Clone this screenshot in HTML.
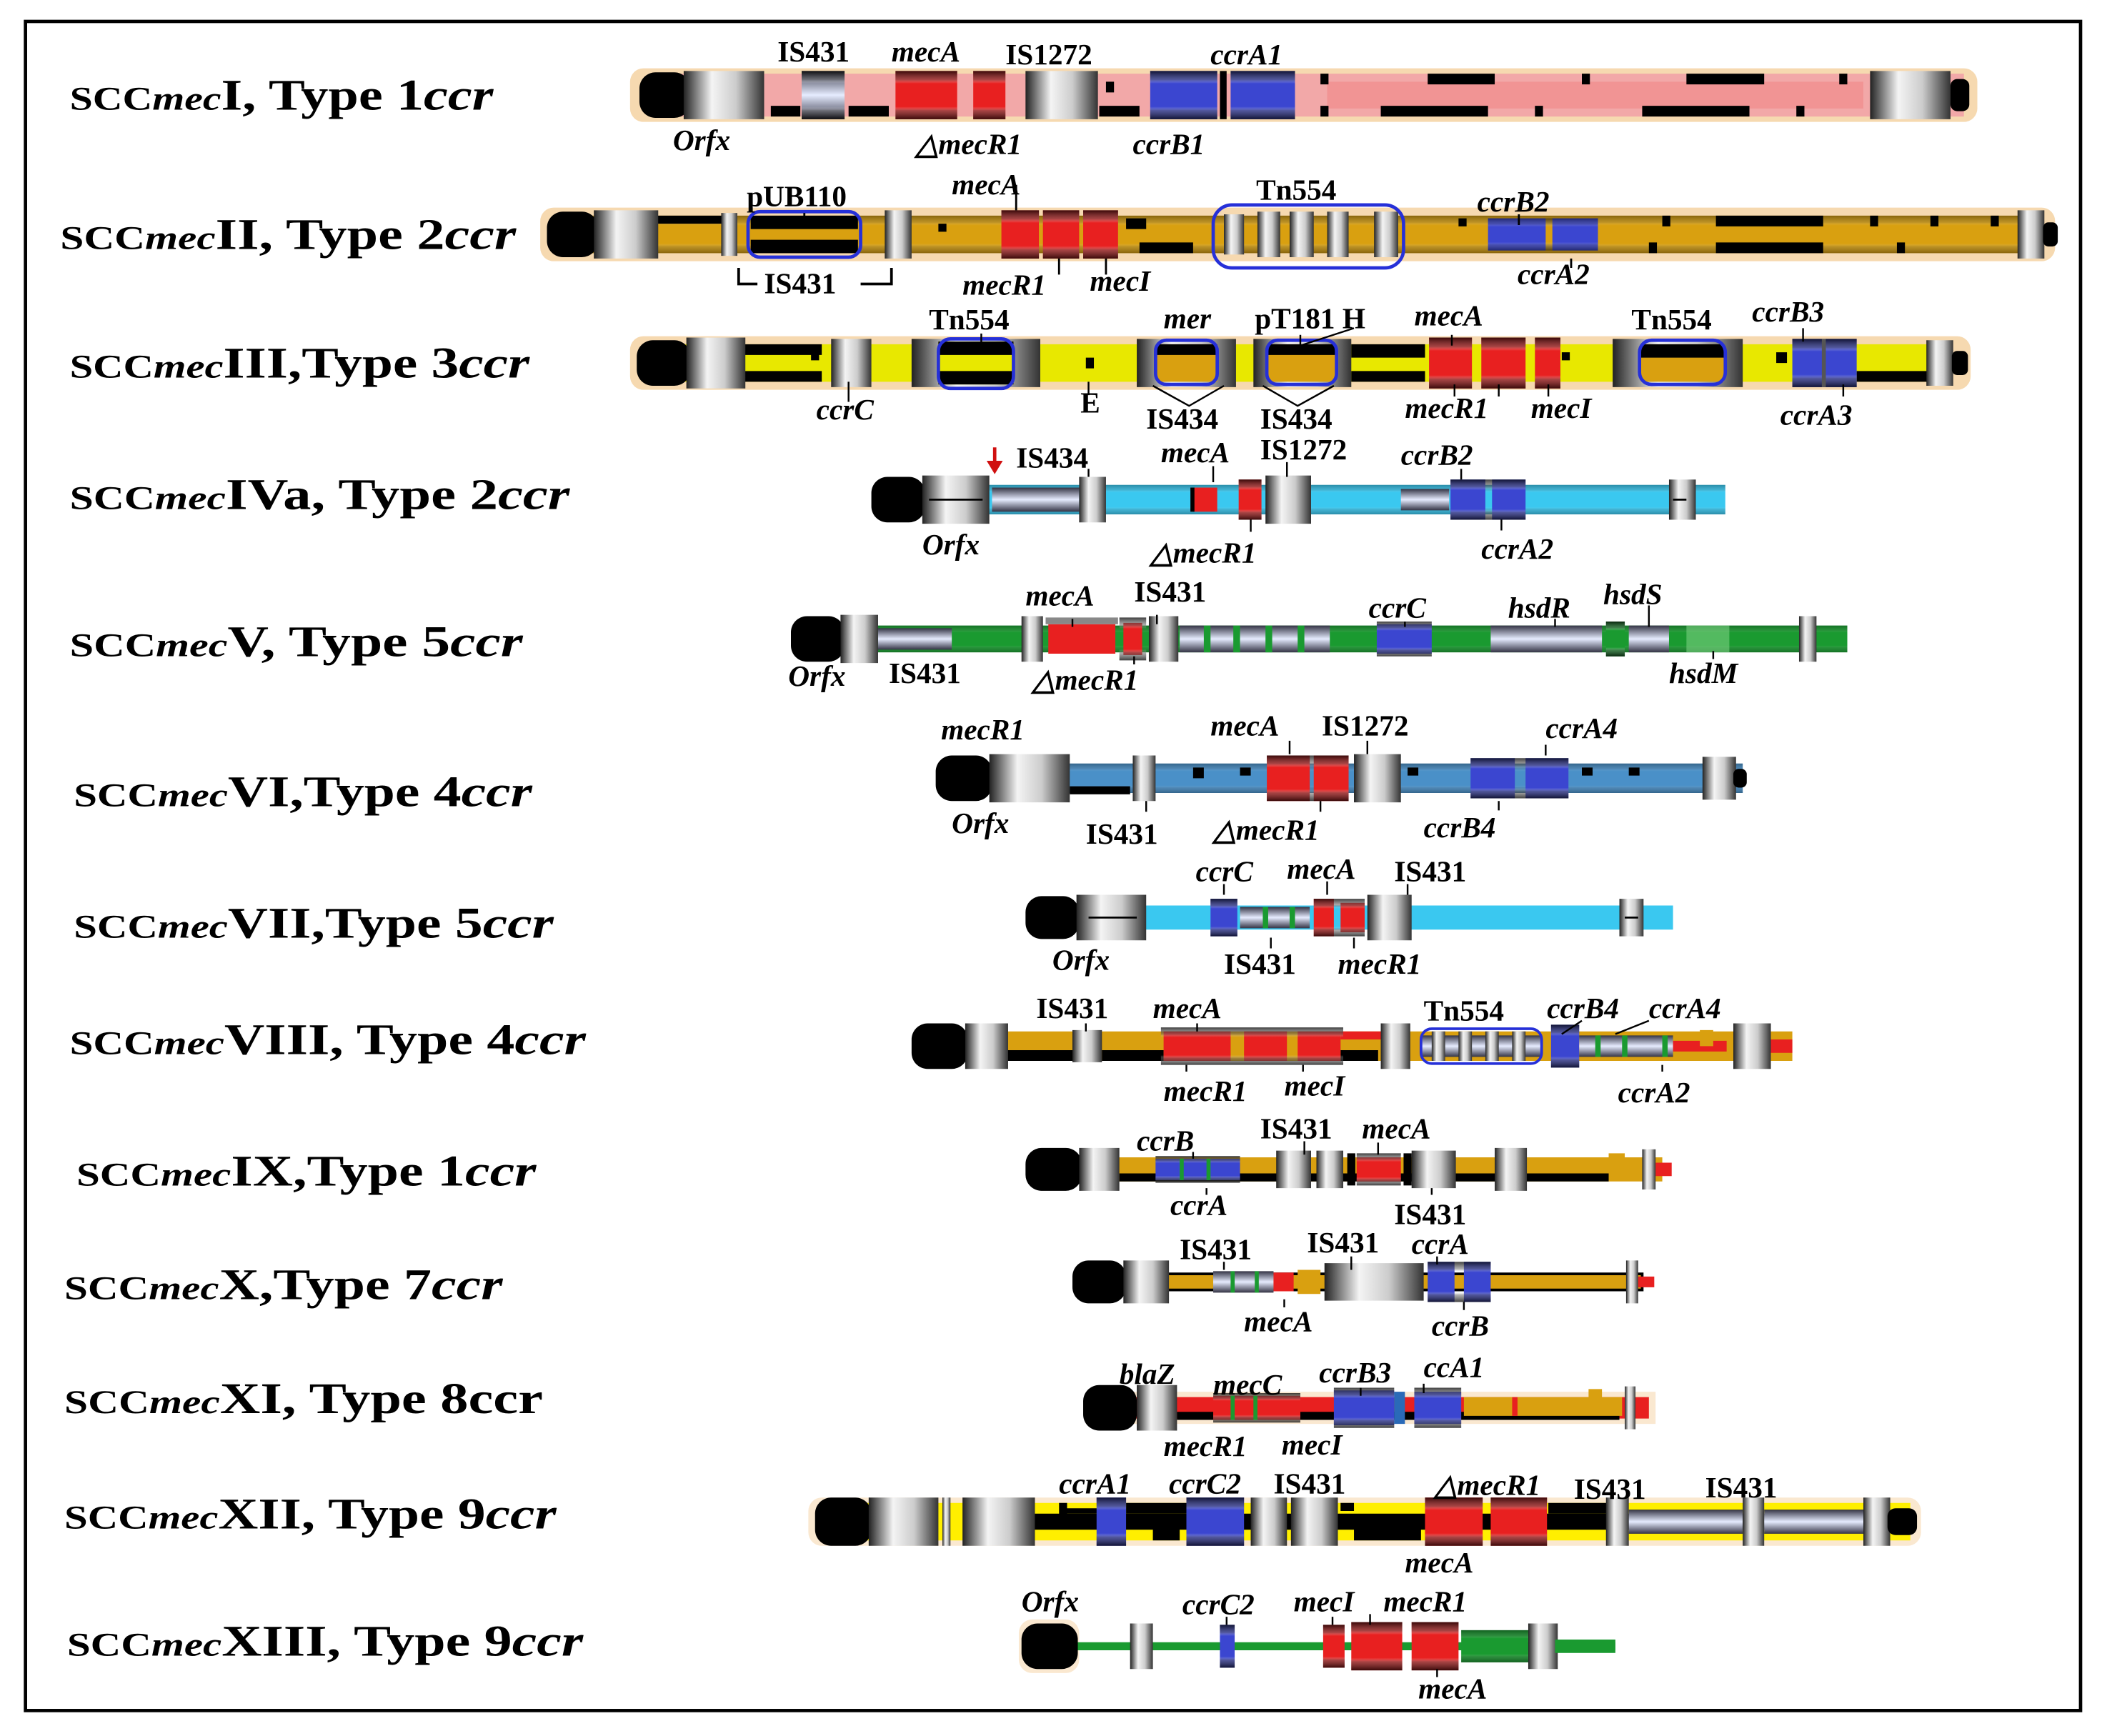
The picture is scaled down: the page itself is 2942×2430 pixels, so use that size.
<!DOCTYPE html>
<html><head><meta charset="utf-8"><style>
html,body{margin:0;padding:0;background:#fff}
svg{display:block}
.r{font-family:"Liberation Serif",serif;font-weight:bold;font-size:33px}
.g{font-family:"Liberation Serif",serif;font-weight:bold;font-style:italic;font-size:22px}
.n{font-family:"Liberation Serif",serif;font-weight:bold;font-size:22px}
.gy{fill:url(#gh)}
.ov{fill:url(#vs)}
.bl{fill:#000}
</style></head><body>
<svg width="2942" height="2430" viewBox="0 0 1568 1296" preserveAspectRatio="none" xmlns="http://www.w3.org/2000/svg">
<defs>
<linearGradient id="gh" x1="0" x2="1" y1="0" y2="0"><stop offset="0" stop-color="#222"/><stop offset=".35" stop-color="#f4f4f4"/><stop offset=".65" stop-color="#ccc"/><stop offset="1" stop-color="#333"/></linearGradient>
<linearGradient id="vs" x1="0" x2="0" y1="0" y2="1"><stop offset="0" stop-color="#000" stop-opacity=".75"/><stop offset=".18" stop-color="#666" stop-opacity=".5"/><stop offset=".26" stop-color="#fff" stop-opacity="0"/><stop offset=".74" stop-color="#fff" stop-opacity="0"/><stop offset=".82" stop-color="#666" stop-opacity=".5"/><stop offset="1" stop-color="#000" stop-opacity=".75"/></linearGradient>
<linearGradient id="lb" x1="0" x2="0" y1="0" y2="1"><stop offset="0" stop-color="#334"/><stop offset=".5" stop-color="#e6ecff"/><stop offset="1" stop-color="#334"/></linearGradient>
</defs>
<rect x="19" y="16" width="1533" height="1261" fill="none" stroke="#000" stroke-width="2.5"/>

<!-- Row labels -->
<g class="r">
<text x="52" y="82" textLength="316" lengthAdjust="spacingAndGlyphs"><tspan font-size="25">SCC</tspan><tspan font-style="italic" font-size="25">mec</tspan>I, Type 1<tspan font-style="italic">ccr</tspan></text>
<text x="45" y="186" textLength="340" lengthAdjust="spacingAndGlyphs"><tspan font-size="25">SCC</tspan><tspan font-style="italic" font-size="25">mec</tspan>II, Type  2<tspan font-style="italic">ccr</tspan></text>
<text x="52" y="282" textLength="343" lengthAdjust="spacingAndGlyphs"><tspan font-size="25">SCC</tspan><tspan font-style="italic" font-size="25">mec</tspan>III,Type 3<tspan font-style="italic">ccr</tspan></text>
<text x="52" y="380" textLength="373" lengthAdjust="spacingAndGlyphs"><tspan font-size="25">SCC</tspan><tspan font-style="italic" font-size="25">mec</tspan>IVa, Type 2<tspan font-style="italic">ccr</tspan></text>
<text x="52" y="490" textLength="338" lengthAdjust="spacingAndGlyphs"><tspan font-size="25">SCC</tspan><tspan font-style="italic" font-size="25">mec</tspan>V, Type 5<tspan font-style="italic">ccr</tspan></text>
<text x="55" y="602" textLength="342" lengthAdjust="spacingAndGlyphs"><tspan font-size="25">SCC</tspan><tspan font-style="italic" font-size="25">mec</tspan>VI,Type 4<tspan font-style="italic">ccr</tspan></text>
<text x="55" y="700" textLength="358" lengthAdjust="spacingAndGlyphs"><tspan font-size="25">SCC</tspan><tspan font-style="italic" font-size="25">mec</tspan>VII,Type 5<tspan font-style="italic">ccr</tspan></text>
<text x="52" y="787" textLength="385" lengthAdjust="spacingAndGlyphs"><tspan font-size="25">SCC</tspan><tspan font-style="italic" font-size="25">mec</tspan>VIII, Type 4<tspan font-style="italic">ccr</tspan></text>
<text x="57" y="885" textLength="343" lengthAdjust="spacingAndGlyphs"><tspan font-size="25">SCC</tspan><tspan font-style="italic" font-size="25">mec</tspan>IX,Type 1<tspan font-style="italic">ccr</tspan></text>
<text x="48" y="970" textLength="327" lengthAdjust="spacingAndGlyphs"><tspan font-size="25">SCC</tspan><tspan font-style="italic" font-size="25">mec</tspan>X,Type 7<tspan font-style="italic">ccr</tspan></text>
<text x="48" y="1055" textLength="357" lengthAdjust="spacingAndGlyphs"><tspan font-size="25">SCC</tspan><tspan font-style="italic" font-size="25">mec</tspan>XI, Type 8ccr</text>
<text x="48" y="1141" textLength="367" lengthAdjust="spacingAndGlyphs"><tspan font-size="25">SCC</tspan><tspan font-style="italic" font-size="25">mec</tspan>XII, Type 9<tspan font-style="italic">ccr</tspan></text>
<text x="50" y="1236" textLength="385" lengthAdjust="spacingAndGlyphs"><tspan font-size="25">SCC</tspan><tspan font-style="italic" font-size="25">mec</tspan>XIII, Type 9<tspan font-style="italic">ccr</tspan></text>
</g>

<!-- Row 1 -->
<g transform="translate(0,71)">
<rect x="470" y="-20" width="1005" height="40" rx="10" fill="#f6d9b0"/>
<rect x="490" y="-16" width="975" height="32" fill="#f2a8a8"/>
<rect x="990" y="-10" width="400" height="20" fill="#f08080" opacity=".5"/>
<g class="bl"><rect x="985" y="-16" width="6" height="8"/><rect x="1065" y="-16" width="50" height="8"/><rect x="1180" y="-16" width="6" height="8"/><rect x="1258" y="-16" width="58" height="8"/><rect x="1372" y="-16" width="6" height="8"/><rect x="985" y="8" width="6" height="8"/><rect x="1030" y="8" width="80" height="8"/><rect x="1145" y="8" width="6" height="8"/><rect x="1225" y="8" width="80" height="8"/><rect x="1340" y="8" width="6" height="8"/><rect x="825" y="-10" width="6" height="8"/><rect x="820" y="8" width="30" height="8"/><rect x="575" y="8" width="22" height="8"/><rect x="633" y="8" width="30" height="8"/></g>
<rect x="477" y="-17" width="38" height="34" rx="12" class="bl"/>
<rect x="510" y="-18" width="60" height="36" class="gy"/>
<rect x="598" y="-18" width="32" height="36" fill="url(#lb)"/><rect x="598" y="-18" width="32" height="36" class="ov"/>
<rect x="668" y="-18" width="46" height="36" fill="#e82020"/><rect x="668" y="-18" width="46" height="36" class="ov"/>
<rect x="726" y="-18" width="24" height="36" fill="#e82020"/><rect x="726" y="-18" width="24" height="36" class="ov"/>
<rect x="765" y="-18" width="54" height="36" class="gy"/>
<rect x="858" y="-18" width="50" height="36" fill="#3b46d0"/><rect x="858" y="-18" width="50" height="36" class="ov"/>
<rect x="918" y="-18" width="48" height="36" fill="#3b46d0"/><rect x="918" y="-18" width="48" height="36" class="ov"/>
<rect x="910" y="-18" width="5" height="36" class="bl"/>
<rect x="1395" y="-18" width="60" height="36" class="gy"/>
<rect x="1455" y="-12" width="14" height="24" rx="5" class="bl"/>
</g>

<!-- Row 2 -->
<g transform="translate(0,175)">
<rect x="403" y="-20" width="1130" height="40" rx="10" fill="#f6d9b0"/>
<rect x="440" y="-14" width="1070" height="28" fill="#d9a010"/>
<rect x="440" y="-14" width="1070" height="28" class="ov" opacity=".5"/>
<g class="bl"><rect x="490" y="-14" width="50" height="6"/><rect x="560" y="-14" width="80" height="10"/><rect x="560" y="4" width="80" height="10"/><rect x="700" y="-8" width="6" height="6"/><rect x="840" y="-12" width="15" height="8"/><rect x="850" y="6" width="40" height="8"/><rect x="1088" y="-12" width="6" height="6"/><rect x="1240" y="-14" width="6" height="8"/><rect x="1280" y="-14" width="80" height="8"/><rect x="1280" y="6" width="80" height="8"/><rect x="1395" y="-14" width="6" height="8"/><rect x="1440" y="-14" width="6" height="8"/><rect x="1230" y="6" width="6" height="8"/><rect x="1415" y="6" width="6" height="8"/><rect x="1485" y="-14" width="6" height="8"/></g>
<rect x="408" y="-17" width="38" height="34" rx="12" class="bl"/>
<rect x="443" y="-18" width="48" height="36" class="gy"/>
<rect x="538" y="-16" width="12" height="32" class="gy"/>
<rect x="558" y="-17" width="84" height="34" rx="9" fill="none" stroke="#2630d8" stroke-width="2.5"/>
<rect x="660" y="-18" width="20" height="36" class="gy"/>
<rect x="747" y="-18" width="28" height="36" fill="#e82020"/><rect x="747" y="-18" width="28" height="36" class="ov"/>
<rect x="778" y="-18" width="27" height="36" fill="#e82020"/><rect x="778" y="-18" width="27" height="36" class="ov"/>
<rect x="808" y="-18" width="26" height="36" fill="#e82020"/><rect x="808" y="-18" width="26" height="36" class="ov"/>
<rect x="913" y="-15" width="15" height="30" class="gy"/><rect x="938" y="-17" width="17" height="34" class="gy"/><rect x="962" y="-17" width="18" height="34" class="gy"/><rect x="990" y="-17" width="16" height="34" class="gy"/><rect x="1025" y="-17" width="18" height="34" class="gy"/>
<rect x="905" y="-22" width="142" height="47" rx="14" fill="none" stroke="#2630d8" stroke-width="2.5"/>
<rect x="1110" y="-12" width="43" height="24" fill="#3b46d0"/><rect x="1158" y="-12" width="34" height="24" fill="#3b46d0"/><rect x="1110" y="-12" width="82" height="24" class="ov" opacity=".6"/>
<rect x="1505" y="-18" width="20" height="36" class="gy"/>
<rect x="1524" y="-9" width="11" height="18" rx="4" class="bl"/>
</g>
<path d="M551 200V212H565M642 212H665V200" fill="none" stroke="#000" stroke-width="2"/>
<path d="M758 138V157M790 193V205M825 193V205M1133 160V168M1172 193V200M600 159V168" stroke="#000" stroke-width="1.5"/>

<!-- Row 3 -->
<g transform="translate(0,271)">
<rect x="470" y="-20" width="1000" height="40" rx="10" fill="#f6d9b0"/>
<rect x="510" y="-14" width="945" height="28" fill="#e8e800"/>
<g class="bl"><rect x="555" y="-14" width="58" height="8"/><rect x="555" y="6" width="58" height="8"/><rect x="605" y="-8" width="6" height="6"/><rect x="810" y="-4" width="6" height="8"/><rect x="1008" y="-14" width="55" height="10"/><rect x="1008" y="6" width="55" height="8"/><rect x="1165" y="-8" width="6" height="6"/><rect x="1325" y="-8" width="8" height="8"/><rect x="1385" y="6" width="55" height="8"/></g>
<rect x="475" y="-17" width="40" height="34" rx="12" class="bl"/>
<rect x="512" y="-19" width="44" height="38" class="gy"/>
<rect x="620" y="-18" width="30" height="36" class="gy"/>
<rect x="680" y="-18" width="96" height="36" class="gy"/><rect x="700" y="-16" width="56" height="32" fill="#e8e800"/><rect x="700" y="-16" width="56" height="10" class="bl"/><rect x="700" y="6" width="56" height="10" class="bl"/>
<rect x="700" y="-18" width="56" height="37" rx="9" fill="none" stroke="#2630d8" stroke-width="2.5"/>
<rect x="848" y="-18" width="74" height="36" class="gy"/><rect x="863" y="-14" width="45" height="28" fill="#d9a010"/><rect x="863" y="-14" width="45" height="8" class="bl"/>
<rect x="862" y="-17" width="46" height="33" rx="8" fill="none" stroke="#2630d8" stroke-width="2.5"/>
<rect x="935" y="-18" width="73" height="36" class="gy"/><rect x="946" y="-14" width="50" height="28" fill="#d9a010"/><rect x="946" y="-14" width="50" height="8" class="bl"/>
<rect x="945" y="-17" width="52" height="33" rx="8" fill="none" stroke="#2630d8" stroke-width="2.5"/>
<rect x="1066" y="-19" width="32" height="38" fill="#e82020"/><rect x="1066" y="-19" width="32" height="38" class="ov"/>
<rect x="1105" y="-19" width="33" height="38" fill="#e82020"/><rect x="1105" y="-19" width="33" height="38" class="ov"/>
<rect x="1145" y="-19" width="19" height="38" fill="#e82020"/><rect x="1145" y="-19" width="19" height="38" class="ov"/>
<rect x="1203" y="-18" width="97" height="36" class="gy"/><rect x="1224" y="-14" width="62" height="28" fill="#d9a010"/><rect x="1224" y="-14" width="62" height="10" class="bl"/>
<rect x="1223" y="-17" width="64" height="33" rx="9" fill="none" stroke="#2630d8" stroke-width="2.5"/>
<rect x="1337" y="-18" width="48" height="36" fill="#3b46d0"/><rect x="1337" y="-18" width="48" height="36" class="ov"/><rect x="1359" y="-18" width="3" height="36" fill="#555"/>
<rect x="1437" y="-17" width="20" height="34" class="gy"/>
<rect x="1456" y="-9" width="12" height="18" rx="4" class="bl"/>
</g>
<path d="M633 285V300M812 285V295M860 288L887 303L913 288M942 288L968 303L995 288M1085 287V296M1118 287V296M1155 287V296M1375 287V296M1345 245V255M970 250V258L1010 245M732 249V258M1083 250V258" fill="none" stroke="#000" stroke-width="1.3"/>

<!-- Row 4 -->
<g transform="translate(0,373)">
<rect x="685" y="-11" width="602" height="22" fill="#3ac8f0"/>
<rect x="685" y="-11" width="602" height="22" class="ov" opacity=".4"/>
<rect x="650" y="-17" width="40" height="34" rx="12" class="bl"/>
<rect x="688" y="-18" width="50" height="36" class="gy"/><path d="M693 0H733" stroke="#000" stroke-width="1.5"/>
<rect x="740" y="-9" width="65" height="18" fill="url(#lb)"/>
<rect x="805" y="-17" width="20" height="34" class="gy"/>
<rect x="890" y="-9" width="18" height="18" fill="#e82020"/><rect x="888" y="-9" width="3" height="18" class="bl"/>
<rect x="924" y="-15" width="17" height="30" fill="#e82020"/><rect x="924" y="-15" width="17" height="30" class="ov"/>
<rect x="944" y="-18" width="34" height="36" class="gy"/>
<rect x="1045" y="-8" width="36" height="16" fill="url(#lb)"/>
<rect x="1082" y="-15" width="26" height="30" fill="#3b46d0"/><rect x="1113" y="-15" width="25" height="30" fill="#3b46d0"/><rect x="1082" y="-15" width="56" height="30" class="ov"/>
<rect x="1245" y="-15" width="20" height="30" class="gy"/><path d="M1248 0H1258" stroke="#000" stroke-width="1.5"/>
</g>
<path d="M742 334V346" stroke="#d01010" stroke-width="2.5"/><path d="M736 344L742 354L748 344Z" fill="#d01010"/>
<path d="M905 348V360M960 345V356M1090 350V358M933 388V397M1120 388V396M812 350V356" stroke="#000" stroke-width="1.3"/>

<!-- Row 5 -->
<g transform="translate(0,477)">
<rect x="625" y="-10" width="753" height="20" fill="#1a9a30"/>
<rect x="625" y="-10" width="753" height="20" class="ov" opacity=".35"/>
<rect x="590" y="-17" width="40" height="34" rx="12" class="bl"/>
<rect x="627" y="-18" width="28" height="36" class="gy"/>
<rect x="655" y="-8" width="55" height="16" fill="url(#lb)"/>
<rect x="762" y="-17" width="16" height="34" class="gy"/>
<rect x="782" y="-11" width="50" height="22" fill="#e82020"/><rect x="780" y="-16" width="54" height="5" fill="#888"/>
<rect x="838" y="-12" width="14" height="24" fill="#e82020"/><rect x="835" y="-16" width="20" height="32" class="ov"/>
<rect x="857" y="-17" width="22" height="34" class="gy"/>
<rect x="880" y="-10" width="112" height="20" fill="url(#lb)"/>
<g fill="#1a9a30"><rect x="898" y="-10" width="5" height="20"/><rect x="920" y="-10" width="5" height="20"/><rect x="944" y="-10" width="5" height="20"/><rect x="968" y="-10" width="5" height="20"/></g>
<rect x="1027" y="-11" width="41" height="22" fill="#3b46d0"/><rect x="1027" y="-13" width="41" height="26" class="ov"/>
<rect x="1112" y="-10" width="83" height="20" fill="url(#lb)"/>
<rect x="1198" y="-13" width="14" height="26" fill="#1a9a30"/><rect x="1198" y="-13" width="14" height="26" class="ov"/>
<rect x="1215" y="-10" width="30" height="20" fill="url(#lb)"/>
<rect x="1258" y="-10" width="32" height="20" fill="#7ad080" opacity=".6"/>
<rect x="1342" y="-17" width="13" height="34" class="gy"/>
</g>
<path d="M800 462V468M863 459V466M1048 464V468M1160 462V468M1230 452V468M1278 486V492M846 490V496" stroke="#000" stroke-width="1.3"/>

<!-- Row 6 -->
<g transform="translate(0,581)">
<rect x="735" y="-11" width="565" height="22" fill="#4a90c8"/>
<rect x="735" y="-11" width="565" height="22" class="ov" opacity=".4"/>
<g class="bl"><rect x="798" y="6" width="45" height="6"/><rect x="890" y="-8" width="8" height="8"/><rect x="925" y="-8" width="8" height="6"/><rect x="1050" y="-8" width="8" height="6"/><rect x="1180" y="-8" width="8" height="6"/><rect x="1215" y="-8" width="8" height="6"/></g>
<rect x="698" y="-17" width="42" height="34" rx="12" class="bl"/>
<rect x="738" y="-18" width="60" height="36" class="gy"/>
<rect x="845" y="-17" width="17" height="34" class="gy"/>
<rect x="945" y="-17" width="32" height="34" fill="#e82020"/><rect x="980" y="-17" width="26" height="34" fill="#e82020"/><rect x="945" y="-17" width="61" height="34" class="ov"/>
<rect x="1010" y="-18" width="35" height="36" class="gy"/>
<rect x="1097" y="-15" width="33" height="30" fill="#3b46d0"/><rect x="1138" y="-15" width="32" height="30" fill="#3b46d0"/><rect x="1097" y="-15" width="73" height="30" class="ov"/>
<rect x="1270" y="-16" width="25" height="32" class="gy"/>
<rect x="1293" y="-7" width="10" height="14" rx="4" class="bl"/>
</g>
<path d="M962 553V563M1020 553V563M1153 556V564M855 598V606M985 598V606M1118 598V605" stroke="#000" stroke-width="1.3"/>

<!-- Row 7 -->
<g transform="translate(0,685)">
<rect x="800" y="-9" width="448" height="18" fill="#3ac8f0"/>
<rect x="765" y="-16" width="40" height="32" rx="12" class="bl"/>
<rect x="803" y="-17" width="52" height="34" class="gy"/><path d="M812 0H848" stroke="#000" stroke-width="1.5"/>
<rect x="903" y="-14" width="20" height="28" fill="#3b46d0"/><rect x="903" y="-14" width="20" height="28" class="ov"/>
<rect x="925" y="-8" width="52" height="16" fill="url(#lb)"/>
<g fill="#1a9a30"><rect x="942" y="-8" width="4" height="16"/><rect x="962" y="-8" width="4" height="16"/></g>
<rect x="980" y="-14" width="15" height="28" fill="#e82020"/><rect x="1000" y="-11" width="18" height="22" fill="#e82020"/><rect x="980" y="-14" width="38" height="28" class="ov"/>
<rect x="1020" y="-17" width="33" height="34" class="gy"/>
<rect x="1208" y="-14" width="18" height="28" class="gy"/><path d="M1212 0H1222" stroke="#000" stroke-width="1.5"/>
</g>
<path d="M913 660V668M990 658V668M1050 660V668M948 700V708M1010 700V708" stroke="#000" stroke-width="1.3"/>

<!-- Row 8 -->
<g transform="translate(0,781)">
<rect x="718" y="-11" width="619" height="22" fill="#d9a010"/>
<g class="bl"><rect x="750" y="3" width="50" height="8"/><rect x="822" y="3" width="46" height="8"/><rect x="1000" y="3" width="28" height="8"/></g>
<rect x="1000" y="-11" width="30" height="6" fill="#e82020"/><rect x="1178" y="-4" width="110" height="8" fill="#e82020"/><rect x="1320" y="-5" width="17" height="10" fill="#e82020"/>
<rect x="680" y="-17" width="42" height="34" rx="12" class="bl"/>
<rect x="720" y="-17" width="32" height="34" class="gy"/>
<rect x="800" y="-12" width="22" height="24" class="gy"/>
<rect x="868" y="-11" width="50" height="22" fill="#e82020"/><rect x="928" y="-11" width="32" height="22" fill="#e82020"/><rect x="968" y="-11" width="32" height="22" fill="#e82020"/><rect x="866" y="-14" width="136" height="28" class="ov"/>
<rect x="1030" y="-17" width="22" height="34" class="gy"/>
<rect x="1060" y="-8" width="90" height="16" fill="url(#lb)"/>
<g class="gy"><rect x="1068" y="-11" width="10" height="22"/><rect x="1088" y="-11" width="10" height="22"/><rect x="1108" y="-11" width="10" height="22"/><rect x="1128" y="-11" width="10" height="22"/></g>
<rect x="1060" y="-13" width="90" height="26" rx="8" fill="none" stroke="#2630d8" stroke-width="2"/>
<rect x="1157" y="-16" width="21" height="32" fill="#3b46d0"/><rect x="1157" y="-16" width="21" height="32" class="ov"/>
<rect x="1178" y="-8" width="70" height="16" fill="url(#lb)"/>
<g fill="#1a9a30"><rect x="1190" y="-8" width="4" height="16"/><rect x="1210" y="-8" width="4" height="16"/><rect x="1240" y="-8" width="4" height="16"/></g>
<rect x="1268" y="-12" width="10" height="12" fill="#d9a010"/>
<rect x="1293" y="-17" width="28" height="34" class="gy"/>
</g>
<path d="M810 764V770M893 764V770M885 795V800M972 795V800M1180 762L1165 772M1230 762L1205 772M1240 795V800" stroke="#000" stroke-width="1.3"/>

<!-- Row 9 -->
<g transform="translate(0,873)">
<rect x="800" y="-9" width="440" height="18" fill="#d9a010"/>
<rect x="835" y="3" width="365" height="6" class="bl"/>
<rect x="1235" y="-5" width="12" height="10" fill="#e82020"/>
<rect x="765" y="-16" width="42" height="32" rx="12" class="bl"/>
<rect x="805" y="-16" width="30" height="32" class="gy"/>
<rect x="862" y="-8" width="63" height="16" fill="#3b46d0"/><rect x="862" y="-10" width="63" height="20" class="ov"/>
<g fill="#1a9a30"><rect x="880" y="-8" width="3" height="16"/><rect x="900" y="-8" width="3" height="16"/></g>
<rect x="952" y="-14" width="26" height="28" class="gy"/><rect x="982" y="-14" width="20" height="28" class="gy"/>
<rect x="1005" y="-12" width="6" height="24" class="bl"/>
<rect x="1012" y="-9" width="33" height="18" fill="#e82020"/><rect x="1012" y="-12" width="33" height="24" class="ov"/>
<rect x="1047" y="-12" width="6" height="24" class="bl"/>
<rect x="1053" y="-14" width="33" height="28" class="gy"/>
<rect x="1115" y="-16" width="24" height="32" class="gy"/>
<rect x="1200" y="-12" width="12" height="14" fill="#d9a010"/>
<rect x="1225" y="-15" width="10" height="30" class="gy"/>
</g>
<path d="M890 860V865M973 852V862M1028 853V862M900 887V892M1068 887V892" stroke="#000" stroke-width="1.3"/>

<!-- Row 10 -->
<g transform="translate(0,957)">
<rect x="835" y="-6" width="390" height="12" fill="#d9a010" stroke="#000" stroke-width="2"/>
<rect x="800" y="-16" width="40" height="32" rx="12" class="bl"/>
<rect x="838" y="-16" width="34" height="32" class="gy"/>
<rect x="905" y="-8" width="45" height="16" fill="url(#lb)"/>
<g fill="#1a9a30"><rect x="918" y="-8" width="3" height="16"/><rect x="936" y="-8" width="3" height="16"/></g>
<rect x="950" y="-7" width="15" height="14" fill="#e82020"/>
<rect x="968" y="-9" width="17" height="18" fill="#d9a010"/>
<rect x="988" y="-14" width="74" height="28" class="gy"/>
<rect x="1065" y="-15" width="20" height="30" fill="#3b46d0"/><rect x="1092" y="-15" width="20" height="30" fill="#3b46d0"/><rect x="1065" y="-15" width="47" height="30" class="ov"/>
<rect x="1213" y="-16" width="9" height="32" class="gy"/>
<rect x="1222" y="-4" width="12" height="8" fill="#e82020"/>
</g>
<path d="M913 942V948M1008 938V948M1072 938V944M958 970V976M1092 972V978" stroke="#000" stroke-width="1.3"/>

<!-- Row 11 -->
<g transform="translate(0,1051)">
<rect x="840" y="-12" width="395" height="24" fill="#f6d9b0" opacity=".6"/>
<rect x="845" y="-8" width="385" height="16" fill="#e82020"/>
<rect x="878" y="3" width="330" height="6" class="bl"/>
<rect x="1092" y="-8" width="118" height="14" fill="#d9a010"/><rect x="1128" y="-8" width="4" height="14" fill="#e82020"/>
<rect x="808" y="-17" width="40" height="34" rx="12" class="bl"/>
<rect x="848" y="-17" width="30" height="34" class="gy"/>
<rect x="905" y="-9" width="65" height="18" fill="#e82020"/><rect x="905" y="-11" width="65" height="22" class="ov"/>
<g fill="#1a9a30"><rect x="918" y="-9" width="3" height="18"/><rect x="935" y="-9" width="3" height="18"/></g>
<rect x="995" y="-13" width="45" height="26" fill="#3b46d0"/><rect x="995" y="-15" width="45" height="30" class="ov"/>
<rect x="1040" y="-12" width="8" height="24" fill="#2a6ab8"/>
<rect x="1055" y="-12" width="35" height="24" fill="#3b46d0"/><rect x="1055" y="-15" width="35" height="30" class="ov"/>
<rect x="1185" y="-14" width="10" height="16" fill="#d9a010"/>
<rect x="1212" y="-16" width="8" height="32" class="gy"/>
</g>
<path d="M1015 1036V1042M1062 1033V1040" stroke="#000" stroke-width="1.3"/>

<!-- Row 12 -->
<g transform="translate(0,1136)">
<rect x="603" y="-18" width="830" height="36" rx="10" fill="#f6d9b0" opacity=".6"/>
<rect x="645" y="-14" width="780" height="28" fill="#ffef00"/>
<rect x="770" y="-6" width="650" height="12" class="bl"/>
<g class="bl"><rect x="790" y="-14" width="6" height="10"/><rect x="795" y="-10" width="25" height="4"/><rect x="840" y="-14" width="45" height="8"/><rect x="1000" y="-14" width="10" height="6"/><rect x="1155" y="-14" width="45" height="8"/><rect x="1010" y="4" width="50" height="10"/><rect x="860" y="4" width="20" height="10"/></g>
<rect x="608" y="-18" width="42" height="36" rx="12" class="bl"/>
<rect x="648" y="-18" width="52" height="36" class="gy"/><rect x="703" y="-18" width="6" height="36" class="gy"/>
<rect x="718" y="-18" width="54" height="36" class="gy"/>
<rect x="818" y="-18" width="22" height="36" fill="#3b46d0"/><rect x="818" y="-18" width="22" height="36" class="ov"/>
<rect x="885" y="-18" width="43" height="36" fill="#3b46d0"/><rect x="885" y="-18" width="43" height="36" class="ov"/>
<rect x="933" y="-18" width="27" height="36" class="gy"/>
<rect x="963" y="-18" width="35" height="36" class="gy"/>
<rect x="1063" y="-18" width="43" height="36" fill="#e82020"/><rect x="1063" y="-18" width="43" height="36" class="ov"/>
<rect x="1112" y="-18" width="42" height="36" fill="#e82020"/><rect x="1112" y="-18" width="42" height="36" class="ov"/>
<rect x="1198" y="-18" width="17" height="36" class="gy"/>
<rect x="1215" y="-9" width="85" height="18" fill="url(#lb)"/>
<rect x="1300" y="-18" width="16" height="36" class="gy"/>
<rect x="1316" y="-9" width="76" height="18" fill="url(#lb)"/>
<rect x="1390" y="-18" width="20" height="36" class="gy"/>
<rect x="1408" y="-10" width="22" height="20" rx="6" class="bl"/>
</g>

<!-- Row 13 -->
<g transform="translate(0,1229)">
<rect x="760" y="-20" width="45" height="40" rx="10" fill="#f6d9b0" opacity=".6"/>
<rect x="800" y="-3" width="405" height="6" fill="#1a9a30"/>
<rect x="762" y="-17" width="42" height="34" rx="12" class="bl"/>
<rect x="843" y="-17" width="17" height="34" class="gy"/>
<rect x="910" y="-16" width="11" height="32" fill="#3b46d0"/><rect x="910" y="-16" width="11" height="32" class="ov"/>
<rect x="987" y="-16" width="16" height="32" fill="#e82020"/><rect x="987" y="-16" width="16" height="32" class="ov"/>
<rect x="1008" y="-18" width="38" height="36" fill="#e82020"/><rect x="1008" y="-18" width="38" height="36" class="ov"/>
<rect x="1053" y="-18" width="35" height="36" fill="#e82020"/><rect x="1053" y="-18" width="35" height="36" class="ov"/>
<rect x="1090" y="-12" width="50" height="24" fill="#1a9a30"/><rect x="1090" y="-12" width="50" height="24" class="ov" opacity=".5"/>
<rect x="1140" y="-17" width="22" height="34" class="gy"/>
<rect x="1160" y="-5" width="45" height="10" fill="#1a9a30"/>
</g>
<path d="M915 1207V1213M994 1207V1213M1022 1205V1213M1072 1246V1252" stroke="#000" stroke-width="1.3"/>

<!-- Gene labels -->
<g>
<text class="n" x="580" y="46">IS431</text><text class="g" x="665" y="46">mecA</text><text class="n" x="750" y="48">IS1272</text><text class="g" x="903" y="48">ccrA1</text>
<text class="g" x="502" y="112">Orfx</text><text class="g" x="683" y="115">△mecR1</text><text class="g" x="845" y="115">ccrB1</text>

<text class="n" x="557" y="154">pUB110</text><text class="g" x="710" y="145">mecA</text><text class="n" x="937" y="149">Tn554</text><text class="g" x="1102" y="158">ccrB2</text>
<text class="n" x="570" y="219">IS431</text><text class="g" x="718" y="220">mecR1</text><text class="g" x="813" y="217">mecI</text><text class="g" x="1132" y="212">ccrA2</text>

<text class="n" x="693" y="246">Tn554</text><text class="g" x="868" y="245">mer</text><text class="n" x="936" y="245">pT181 H</text><text class="g" x="1055" y="243">mecA</text><text class="n" x="1217" y="246">Tn554</text><text class="g" x="1307" y="240">ccrB3</text>
<text class="g" x="609" y="313">ccrC</text><text class="n" x="806" y="308">E</text><text class="n" x="855" y="320">IS434</text><text class="n" x="940" y="320">IS434</text><text class="g" x="1048" y="312">mecR1</text><text class="g" x="1142" y="312">mecI</text><text class="g" x="1328" y="317">ccrA3</text>

<text class="n" x="758" y="349">IS434</text><text class="g" x="866" y="345">mecA</text><text class="n" x="940" y="343">IS1272</text><text class="g" x="1045" y="347">ccrB2</text>
<text class="g" x="688" y="414">Orfx</text><text class="g" x="858" y="420">△mecR1</text><text class="g" x="1105" y="417">ccrA2</text>

<text class="g" x="765" y="452">mecA</text><text class="n" x="846" y="449">IS431</text><text class="g" x="1021" y="461">ccrC</text><text class="g" x="1125" y="461">hsdR</text><text class="g" x="1196" y="451">hsdS</text>
<text class="g" x="588" y="512">Orfx</text><text class="n" x="663" y="510">IS431</text><text class="g" x="770" y="515">△mecR1</text><text class="g" x="1245" y="510">hsdM</text>

<text class="g" x="702" y="552">mecR1</text><text class="g" x="903" y="549">mecA</text><text class="n" x="986" y="549">IS1272</text><text class="g" x="1153" y="551">ccrA4</text>
<text class="g" x="710" y="622">Orfx</text><text class="n" x="810" y="630">IS431</text><text class="g" x="905" y="627">△mecR1</text><text class="g" x="1062" y="625">ccrB4</text>

<text class="g" x="892" y="658">ccrC</text><text class="g" x="960" y="656">mecA</text><text class="n" x="1040" y="658">IS431</text>
<text class="g" x="785" y="724">Orfx</text><text class="n" x="913" y="727">IS431</text><text class="g" x="998" y="727">mecR1</text>

<text class="n" x="773" y="760">IS431</text><text class="g" x="860" y="760">mecA</text><text class="n" x="1062" y="762">Tn554</text><text class="g" x="1154" y="760">ccrB4</text><text class="g" x="1230" y="760">ccrA4</text>
<text class="g" x="868" y="822">mecR1</text><text class="g" x="958" y="818">mecI</text><text class="g" x="1207" y="823">ccrA2</text>

<text class="g" x="848" y="859">ccrB</text><text class="n" x="940" y="850">IS431</text><text class="g" x="1016" y="850">mecA</text>
<text class="g" x="873" y="907">ccrA</text><text class="n" x="1040" y="914">IS431</text>

<text class="n" x="880" y="940">IS431</text><text class="n" x="975" y="935">IS431</text><text class="g" x="1053" y="936">ccrA</text>
<text class="g" x="928" y="994">mecA</text><text class="g" x="1068" y="997">ccrB</text>

<text class="g" x="835" y="1033">blaZ</text><text class="g" x="905" y="1041">mecC</text><text class="g" x="984" y="1032">ccrB3</text><text class="g" x="1062" y="1028">ccA1</text>
<text class="g" x="868" y="1087">mecR1</text><text class="g" x="956" y="1086">mecI</text>

<text class="g" x="790" y="1115">ccrA1</text><text class="g" x="872" y="1115">ccrC2</text><text class="n" x="950" y="1115">IS431</text><text class="g" x="1070" y="1116">△mecR1</text><text class="n" x="1174" y="1119">IS431</text><text class="n" x="1272" y="1118">IS431</text>
<text class="g" x="1048" y="1174">mecA</text>

<text class="g" x="762" y="1203">Orfx</text><text class="g" x="882" y="1205">ccrC2</text><text class="g" x="965" y="1203">mecI</text><text class="g" x="1032" y="1203">mecR1</text>
<text class="g" x="1058" y="1268">mecA</text>
</g>
</svg>
</body></html>
